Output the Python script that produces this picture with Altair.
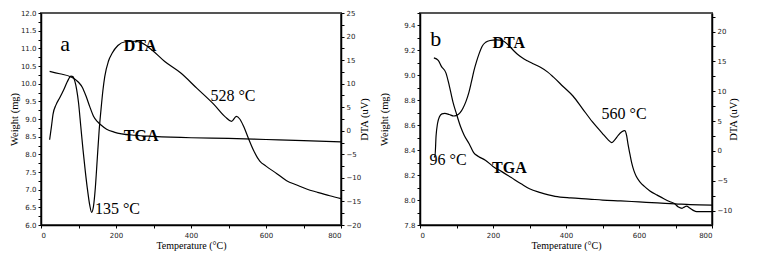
import altair as alt
import pandas as pd
import numpy as np

# ---------------- data: panel a ----------------
tga_a_T = [23, 50, 80, 100, 110, 120, 130, 140, 150, 160, 175, 195, 215, 250, 300, 400, 500, 600, 700, 800]
tga_a_W = [10.35, 10.28, 10.19, 10.04, 9.90, 9.65, 9.35, 9.08, 8.93, 8.83, 8.71, 8.63, 8.58, 8.54, 8.51, 8.47, 8.45, 8.42, 8.39, 8.35]

dta_a_T = [23, 28, 32, 40, 50, 60, 70, 80, 85, 90, 95, 100, 106, 112, 118, 124, 130, 135,
           140, 145, 150, 155, 160, 165, 170, 180, 190, 205, 225, 250, 270, 295, 330, 372,
           416, 461, 492, 508, 521, 530, 540, 553, 567, 584, 600, 629, 655, 682, 710, 735, 770, 800]
dta_a_D = [-1.9, 1.0, 3.5, 5.5, 7.0, 8.6, 10.4, 11.6, 11.5, 10.6, 8.8, 6.0, 1.0, -4.0, -8.5, -12.5, -15.8, -17.3,
           -16.0, -12.0, -6.0, 0.0, 4.5, 8.5, 11.5, 14.8, 16.5, 18.1, 18.9, 19.0, 18.6, 17.2, 14.7, 12.3,
           9.0, 5.6, 2.9, 2.0, 3.05, 2.5, 1.0, -1.6, -4.2, -6.5, -7.5, -9.1, -10.6, -11.5, -12.4, -13.0, -13.8, -14.4]

# ---------------- data: panel b ----------------
tga_b_T = [38, 50, 59, 71, 80, 90, 100, 111, 121, 135, 147, 160, 179, 200, 223, 250, 277, 300, 330, 370,
           413, 463, 500, 550, 600, 650, 700, 740, 800]
tga_b_W = [9.14, 9.12, 9.07, 9.02, 8.92, 8.79, 8.69, 8.59, 8.52, 8.45, 8.38, 8.35, 8.32, 8.27, 8.23, 8.18, 8.13, 8.09, 8.06, 8.03,
           8.017, 8.008, 8.0, 7.993, 7.985, 7.977, 7.97, 7.963, 7.96]

dta_b_T = [38, 41, 44, 48, 53, 60, 68, 80, 92, 100, 110, 118, 126, 134, 141, 148, 155, 162, 170, 180, 192,
           210, 225, 241, 255, 267, 280, 294, 310, 330, 350, 365, 392, 419, 445, 472, 499, 515, 525, 533,
           543, 553, 561, 566, 570, 575, 580, 586, 592, 603, 614, 630, 650, 668, 685, 697, 708, 718, 724,
           730, 740, 750, 758, 800]
dta_b_D = [-1.0, -1.0, 2.5, 4.6, 5.7, 6.2, 6.3, 6.1, 5.85, 5.95, 6.4, 7.2, 8.3, 9.8, 11.6, 13.5, 15.0, 16.3, 17.5, 18.2, 18.5,
           18.6, 18.5, 17.8, 16.9, 16.2, 15.6, 15.1, 14.6, 14.0, 13.2, 12.4, 10.8, 9.2, 7.1, 4.9, 3.0, 1.9, 1.4, 1.8,
           2.6, 3.2, 3.4, 2.6, 1.1, -0.5, -2.0, -3.3, -4.2, -5.2, -5.9, -6.7, -7.4, -8.0, -8.5, -8.8, -9.4, -9.6, -9.4,
           -9.25, -9.6, -10.0, -10.15, -10.15]

# ---------------- annotations (data units: temperature, weight) ----------------
letter_a = {"label": ["a"], "T": [64], "W": [11.13]}
bold_a = {"label": ["DTA", "TGA"], "T": [264, 267], "W": [11.07, 8.51]}
temp_a = {"label": ["528 °C", "135 °C"], "T": [512, 204], "W": [9.65, 6.45]}

letter_b = {"label": ["b"], "T": [43], "W": [9.29]}
bold_b = {"label": ["DTA", "TGA"], "T": [243, 245], "W": [9.26, 8.26]}
temp_b = {"label": ["560 °C", "96 °C"], "T": [559, 77], "W": [8.69, 8.32]}

x_values = list(range(0, 801, 100))
SERIF = "Liberation Serif"
SANS = "DejaVu Sans"


def steps(lo, hi, step):
    n = int(round((hi - lo) / step))
    return [round(lo + i * step, 4) for i in range(n + 1)]


def panel(tT, tW, dT, dD, letter, bold, temp, wdom, ddom, wvals, dvals, wmult, width, height,
          left_tp, right_tp):
    x = alt.X("T:Q", scale=alt.Scale(domain=[0, 800], nice=False),
              axis=alt.Axis(values=x_values,
                            labelExpr="datum.value % 200 == 0 ? format(datum.value, 'd') : ''",
                            title="Temperature (°C)", titleFont=SERIF, titleFontSize=10,
                            titleFontWeight="normal", titlePadding=1, labelFont=SANS,
                            labelFontSize=7, labelPadding=3, tickSize=3, labelColor="#222",
                            minExtent=14, maxExtent=14))
    wscale = alt.Scale(domain=wdom, nice=False, zero=False)
    dscale = alt.Scale(domain=ddom, nice=False, zero=False)
    tga = alt.Chart(pd.DataFrame({"T": tT, "W": tW})).mark_line(
        color="black", strokeWidth=1.2, interpolate="monotone").encode(
        x=x,
        y=alt.Y("W:Q", scale=wscale,
                axis=alt.Axis(orient="left", values=wvals,
                              labelExpr=f"abs(datum.value*{wmult} - round(datum.value*{wmult})) < 0.001 ? format(datum.value, '.1f') : ''",
                              title="Weight (mg)", titleFont=SERIF, titleFontSize=10.5,
                              titleFontWeight="normal", titlePadding=left_tp, labelFont=SANS,
                              labelFontSize=7, labelPadding=2, tickSize=3, labelColor="#222",
                              minExtent=18, maxExtent=18)))
    dta = alt.Chart(pd.DataFrame({"T": dT, "D": dD})).mark_line(
        color="black", strokeWidth=1.2, interpolate="monotone").encode(
        x=x,
        y=alt.Y("D:Q", scale=dscale,
                axis=alt.Axis(orient="right", values=dvals,
                              labelExpr="abs(datum.value % 5) < 0.001 ? format(datum.value, 'd') : ''",
                              title="DTA (uV)", titleFont=SERIF, titleFontSize=10.5, titleAngle=270,
                              titleBaseline="top",
                              titleFontWeight="normal", titlePadding=right_tp, labelFont=SANS,
                              labelFontSize=7, labelPadding=2, tickSize=3, labelColor="#222",
                              minExtent=18, maxExtent=18)))

    def txt(d, size, weight):
        return alt.Chart(pd.DataFrame(d)).mark_text(
            font=SERIF, fontSize=size, fontWeight=weight, color="black").encode(
            x=x, y=alt.Y("W:Q", scale=wscale, axis=None), text="label:N")

    return alt.layer(tga, dta, txt(letter, 22, "normal"), txt(bold, 16, "bold"),
                     txt(temp, 16, "normal")).resolve_scale(y="independent").properties(
        width=width, height=height)


pa = panel(tga_a_T, tga_a_W, dta_a_T, dta_a_D, letter_a, bold_a, temp_a,
           [6, 12], [-20, 25], steps(6, 12, 0.25), steps(-20, 25, 2.5), 2, 300, 212, 4, 0)
pb = panel(tga_b_T, tga_b_W, dta_b_T, dta_b_D, letter_b, bold_b, temp_b,
           [7.8, 9.5], [-12.4, 23.1], steps(7.8, 9.5, 0.1), steps(-10, 22.5, 2.5), 5, 292, 212, 13, -2)

chart = alt.hconcat(pa, pb, spacing=79, bounds="flush").properties(padding=0).configure_view(
    stroke="#555", strokeWidth=2).configure_axis(
    domainColor="black", domainWidth=1.5, tickColor="black", tickWidth=1, grid=False,
    titleColor="black")

chart.save("out.html", embed_options={"renderer": "svg", "actions": False})
